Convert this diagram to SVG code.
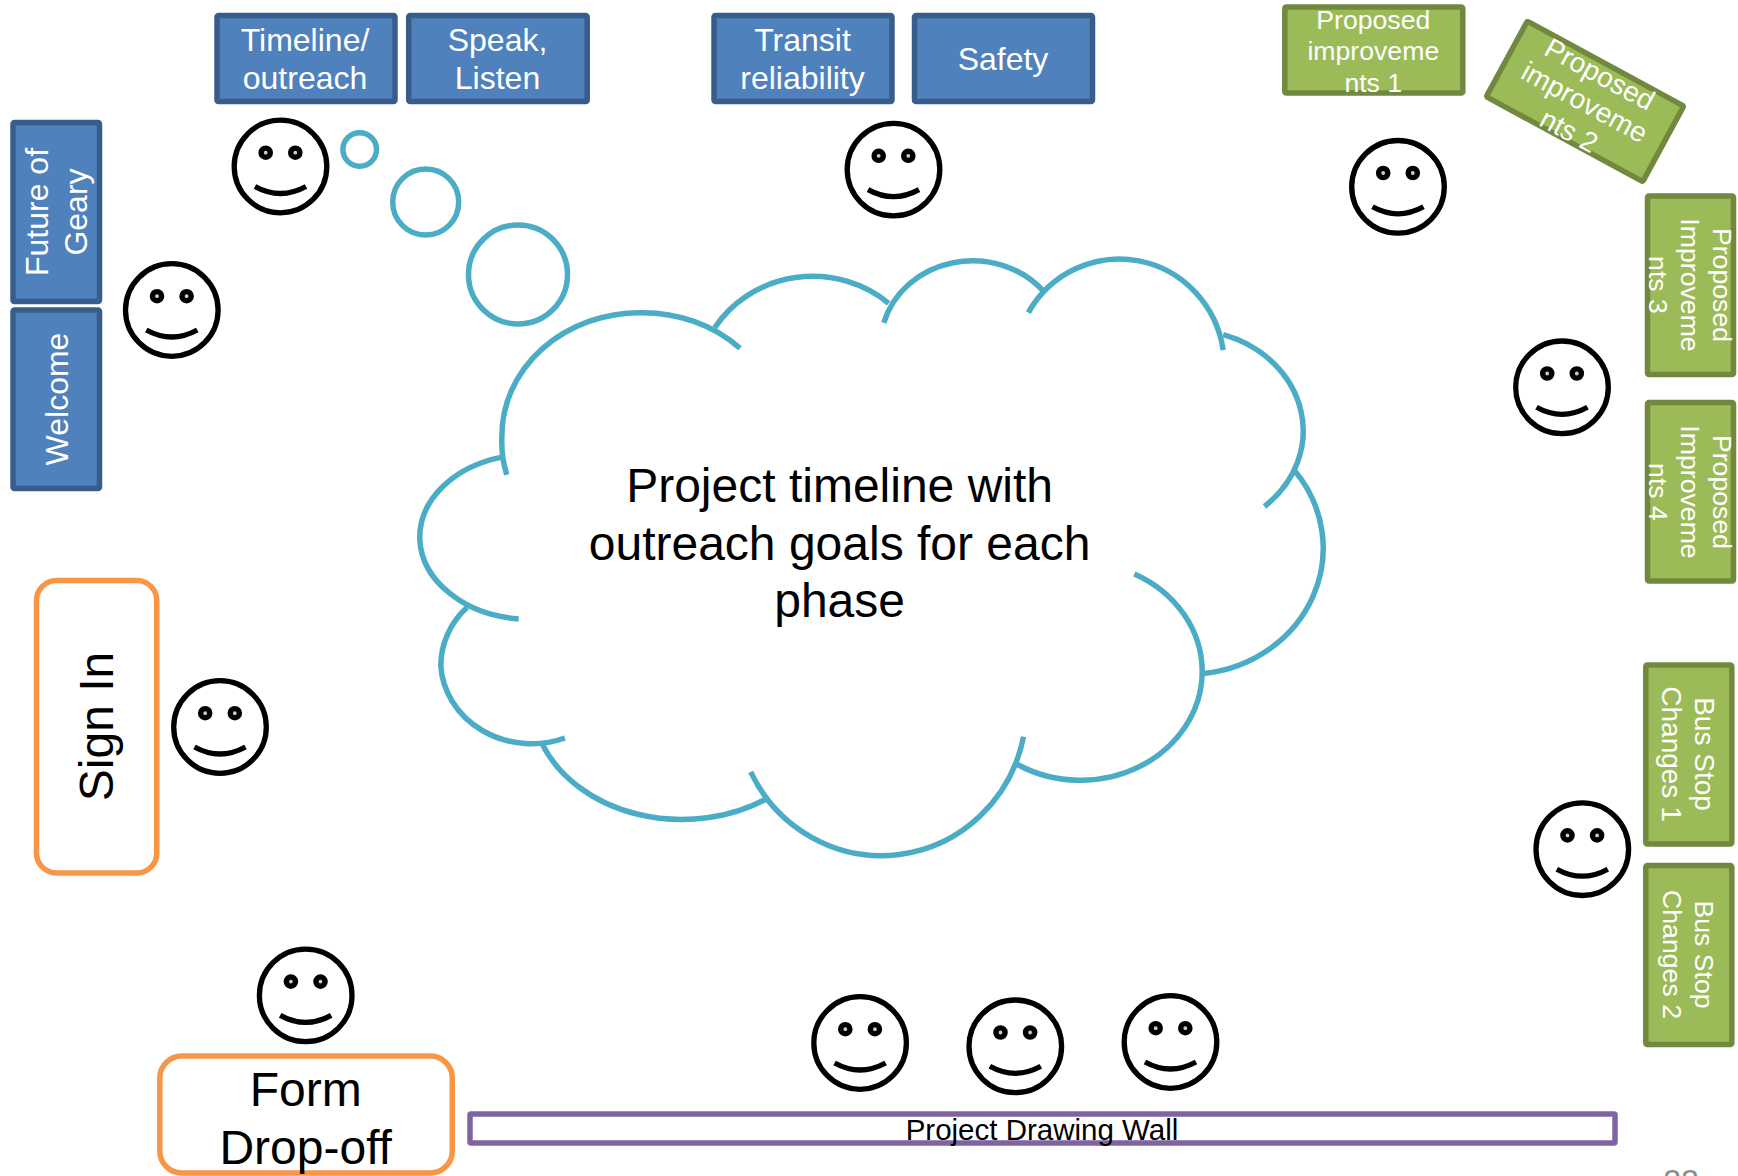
<svg xmlns="http://www.w3.org/2000/svg" width="1738" height="1176" viewBox="0 0 1738 1176">
<style>
text{font-family:"Liberation Sans",Arial,sans-serif;text-anchor:middle}
.b rect{fill:#4F81BD;stroke:#385D8A;stroke-width:5.5}
.g rect{fill:#9BBB59;stroke:#71893F;stroke-width:5.5}
.o rect{fill:#fff;stroke:#F79646;stroke-width:5.500}
.bt{font-size:32px;fill:#fff}
.gt{font-size:26.67px;fill:#fff}
.gl{font-size:28px;fill:#fff}
.ot{font-size:48px;fill:#000}
.cl{fill:none;stroke:#4BACC6;stroke-width:5.500}
.f{fill:#fff;stroke:#000;stroke-width:5.300}
.e{fill:#ccc;stroke:#000;stroke-width:5.400}
.m{fill:none;stroke:#000;stroke-width:5.300}
</style>
<defs>
<g id="s"><circle class="f" r="46.300"/><circle class="e" cx="-14.800" cy="-13.800" r="4.600"/><circle class="e" cx="14.800" cy="-13.800" r="4.600"/><path class="m" d="M-25.500 20Q0 34 25.500 20"/></g>
</defs>
<g id="connectors"></g>
<g id="cloud">
<g class="cl">
<path d="M506.700 474.700A138 123 0 0 1 501.900 436A138 123 0 0 1 639.800 312.700A138 123 0 0 1 740 348.200"/>
<path d="M714.700 327.800A115 108 0 0 1 888.600 303.300"/>
<path d="M883.800 322.900A92 84 0 0 1 1043.300 291"/>
<path d="M1028.300 312.700A105 107 0 0 1 1223.200 350.200"/>
<path d="M1223.200 334.700A115 101 0 0 1 1264.500 506.500"/>
<path d="M1294.500 470.600A135 126 0 0 1 1203.300 673.500"/>
<path d="M1134.400 573.900A121.700 109.300 0 0 1 1202.200 672.700A121.700 109.300 0 0 1 1017.500 764.500"/>
<path d="M1023.500 736.700A145 148 0 0 1 750.700 771.800"/>
<path d="M765.700 799.200A150 119 0 0 1 542.700 744.900"/>
<path d="M564.900 738A91 82.800 0 0 1 440.800 666A91 82.800 0 0 1 467.100 607.300"/>
<path d="M518.700 619A110 83 0 0 1 419.800 539.500A110 83 0 0 1 501.900 457.100"/>
</g>
<text class="ot" x="839.600"><tspan x="839.600" y="502">Project timeline with</tspan><tspan x="839.600" y="560">outreach goals for each</tspan><tspan x="839.600" y="617">phase</tspan></text>
</g>
<g id="bubbles" class="cl">
<circle cx="359.700" cy="149.500" r="16.800"/>
<circle cx="425.700" cy="202" r="33"/>
<circle cx="518" cy="274.500" r="49.500"/>
</g>
<g id="timeline" class="b"><rect x="217" y="15.500" width="178" height="86" rx="1.500"/><text class="bt" x="305" y="51">Timeline/</text><text class="bt" x="305" y="89">outreach</text></g>
<g id="speak" class="b"><rect x="408.700" y="15.500" width="178.500" height="86" rx="1.500"/><text class="bt" x="497.500" y="51">Speak,</text><text class="bt" x="497.500" y="89">Listen</text></g>
<g id="transit" class="b"><rect x="714" y="15.500" width="178" height="86" rx="1.500"/><text class="bt" x="802.500" y="51">Transit</text><text class="bt" x="802.500" y="89">reliability</text></g>
<g id="safety" class="b"><rect x="914.500" y="15.500" width="178" height="86" rx="1.500"/><text class="bt" x="1003" y="70">Safety</text></g>
<g id="future" class="b"><rect x="13" y="122.500" width="86.500" height="179" rx="1.500"/><text class="bt" transform="translate(48 212) rotate(-90)">Future of</text><text class="bt" transform="translate(87 212) rotate(-90)">Geary</text></g>
<g id="welcome" class="b"><rect x="13" y="310" width="86.500" height="178.500" rx="1.500"/><text class="bt" transform="translate(67.500 399) rotate(-90)">Welcome</text></g>
<g id="p1" class="g"><rect x="1284.800" y="7" width="178" height="86" rx="1.500"/><text class="gt" x="1373.300" y="28.700">Proposed</text><text class="gt" x="1373.300" y="60">improveme</text><text class="gt" x="1373.300" y="91.800">nts 1</text></g>
<g id="p2" class="g" transform="translate(1585 101.400) rotate(28.500)"><rect x="-89" y="-43" width="178" height="86" rx="1.500"/><text class="gl" x="0" y="-21.300">Proposed</text><text class="gl" x="0" y="10.500">improveme</text><text class="gl" x="0" y="43">nts 2</text></g>
<g id="p3" class="g"><rect x="1647.500" y="196" width="86" height="178.500" rx="1.500"/><text class="gt" transform="translate(1713 285) rotate(90)">Proposed</text><text class="gt" transform="translate(1681 285) rotate(90)">Improveme</text><text class="gt" transform="translate(1649 285) rotate(90)">nts 3</text></g>
<g id="p4" class="g"><rect x="1647.500" y="402.500" width="86" height="178.500" rx="1.500"/><text class="gt" transform="translate(1713 492) rotate(90)">Proposed</text><text class="gt" transform="translate(1681 492) rotate(90)">Improveme</text><text class="gt" transform="translate(1649 492) rotate(90)">nts 4</text></g>
<g id="bus1" class="g"><rect x="1645.800" y="665" width="86" height="179" rx="1.500"/><text class="gl" transform="translate(1695 754) rotate(90)">Bus Stop</text><text class="gl" transform="translate(1661.500 754) rotate(90)">Changes 1</text></g>
<g id="bus2" class="g"><rect x="1645.800" y="865.500" width="86" height="179" rx="1.500"/><text class="gt" transform="translate(1695 954.500) rotate(90)">Bus Stop</text><text class="gt" transform="translate(1662.500 954.500) rotate(90)">Changes 2</text></g>
<g id="signin" class="o"><rect x="36.500" y="580.500" width="120.300" height="292.500" rx="20"/><text class="ot" transform="translate(113 726.500) rotate(-90)">Sign In</text></g>
<g id="dropoff" class="o"><rect x="159.800" y="1056" width="292.500" height="117" rx="22"/><text class="ot" x="305.700" y="1106">Form</text><text class="ot" x="305.700" y="1164">Drop-off</text></g>
<g id="wall"><rect x="470" y="1114" width="1145" height="29" rx="1" fill="#fff" stroke="#8064A2" stroke-width="5.500"/><text x="1042" y="1140" font-size="29.500" fill="#000">Project Drawing Wall</text></g>
<g id="people">
<use href="#s" x="280.500" y="166.500"/>
<use href="#s" x="171.800" y="310"/>
<use href="#s" x="893.500" y="169.600"/>
<use href="#s" x="1398" y="186.800"/>
<use href="#s" x="1562" y="387.300"/>
<use href="#s" x="1582.300" y="849.200"/>
<use href="#s" x="220" y="727"/>
<use href="#s" x="305.700" y="995.400"/>
<use href="#s" x="860.100" y="1043"/>
<use href="#s" x="1015.300" y="1046.300"/>
<use href="#s" x="1170.500" y="1042"/>
</g>
<text id="page" x="1681" y="1192" font-size="32" fill="#8B8B8B">22</text>
</svg>
